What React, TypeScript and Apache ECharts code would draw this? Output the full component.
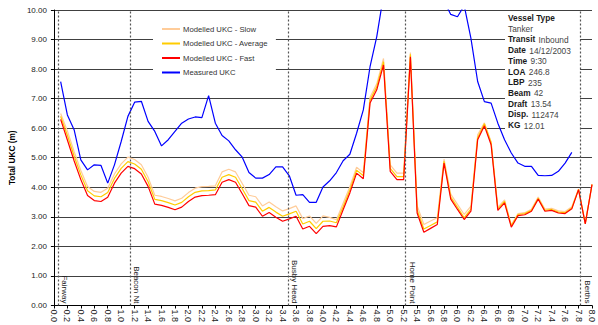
import React, { useEffect, useRef } from 'react';
import * as echarts from 'echarts';

const FONT = '"Liberation Sans", Arial, Helvetica, sans-serif';

// distance along channel (km)
const modelKm = [
  0.1, 0.2, 0.3, 0.4, 0.5, 0.6, 0.7, 0.8, 0.9, 1.0,
  1.1, 1.2, 1.3, 1.4, 1.5, 1.6, 1.7, 1.8, 1.9, 2.0,
  2.1, 2.2, 2.3, 2.4, 2.5, 2.6, 2.7, 2.8, 2.9, 3.0,
  3.1, 3.2, 3.3, 3.4, 3.5, 3.6, 3.7, 3.8, 3.9, 4.0,
  4.1, 4.2, 4.3, 4.4, 4.5, 4.6, 4.7, 4.8, 4.9, 5.0,
  5.1, 5.2, 5.3, 5.4, 5.5, 5.6, 5.7, 5.8, 5.9, 6.0,
  6.1, 6.2, 6.3, 6.4, 6.5, 6.6, 6.7, 6.8, 6.9, 7.0,
  7.1, 7.2, 7.3, 7.4, 7.5, 7.6, 7.7, 7.8, 7.9, 8.0,
];

const slowUKC = [
  6.50, 5.91, 5.21, 4.57, 4.03, 3.86, 3.83, 3.97, 4.45, 4.79,
  5.02, 4.94, 4.76, 4.34, 3.73, 3.69, 3.62, 3.54, 3.63, 3.82,
  3.97, 4.02, 4.03, 4.05, 4.52, 4.61, 4.52, 4.13, 3.73, 3.68,
  3.37, 3.50, 3.34, 3.20, 3.28, 3.37, 2.94, 3.03, 2.78, 3.03,
  2.98, 2.90, 3.46, 4.02, 4.68, 4.49, 7.05, 7.50, 8.36, 4.76,
  4.48, 4.48, 8.56, 3.38, 2.74, 2.86, 2.97, 4.95, 3.77, 3.42,
  3.08, 3.36, 5.78, 6.18, 5.54, 3.32, 3.57, 2.72, 3.11, 3.14,
  3.26, 3.67, 3.26, 3.29, 3.20, 3.18, 3.34, 3.94, 2.78, 4.11,
];

const averageUKC = [
  6.40, 5.76, 5.06, 4.42, 3.88, 3.71, 3.68, 3.82, 4.30, 4.64,
  4.87, 4.79, 4.61, 4.19, 3.59, 3.55, 3.48, 3.40, 3.49, 3.68,
  3.83, 3.88, 3.89, 3.91, 4.34, 4.43, 4.34, 3.95, 3.55, 3.50,
  3.19, 3.32, 3.16, 3.02, 3.10, 3.19, 2.76, 2.85, 2.60, 2.85,
  2.86, 2.80, 3.34, 3.91, 4.58, 4.39, 6.95, 7.40, 8.25, 4.64,
  4.36, 4.36, 8.50, 3.23, 2.59, 2.71, 2.83, 4.88, 3.67, 3.32,
  2.97, 3.26, 5.68, 6.15, 5.51, 3.27, 3.52, 2.70, 3.08, 3.11,
  3.22, 3.63, 3.22, 3.25, 3.16, 3.14, 3.30, 3.93, 2.77, 4.10,
];

const fastUKC = [
  6.30, 5.60, 4.90, 4.26, 3.72, 3.55, 3.52, 3.66, 4.14, 4.48,
  4.71, 4.63, 4.45, 4.03, 3.43, 3.39, 3.32, 3.24, 3.33, 3.52,
  3.67, 3.72, 3.73, 3.75, 4.17, 4.26, 4.17, 3.78, 3.38, 3.33,
  3.02, 3.15, 2.99, 2.85, 2.93, 3.02, 2.59, 2.68, 2.43, 2.68,
  2.70, 2.66, 3.24, 3.81, 4.48, 4.29, 6.85, 7.30, 8.14, 4.54,
  4.26, 4.26, 8.42, 3.13, 2.48, 2.61, 2.74, 4.82, 3.60, 3.25,
  2.91, 3.19, 5.61, 6.08, 5.44, 3.22, 3.47, 2.65, 3.04, 3.07,
  3.19, 3.60, 3.19, 3.22, 3.13, 3.11, 3.27, 3.92, 2.76, 4.09,
];

const measuredKm = [
  0.1, 0.2, 0.3, 0.4, 0.5, 0.6, 0.7, 0.8, 0.9, 1.0,
  1.1, 1.2, 1.3, 1.4, 1.5, 1.6, 1.7, 1.8, 1.9, 2.0,
  2.1, 2.2, 2.3, 2.4, 2.5, 2.6, 2.7, 2.8, 2.9, 3.0,
  3.1, 3.2, 3.3, 3.4, 3.5, 3.6, 3.7, 3.8, 3.9, 4.0,
  4.1, 4.2, 4.3, 4.4, 4.5, 4.6, 4.7, 4.8, 4.9, 5.0,
  5.1, 5.2, 5.3, 5.4, 5.5, 5.6, 5.7, 5.8, 5.9, 6.0,
  6.1, 6.2, 6.3, 6.4, 6.5, 6.6, 6.7, 6.8, 6.9, 7.0,
  7.1, 7.2, 7.3, 7.4, 7.5, 7.6, 7.7,
];

const measuredUKC = [
  7.58, 6.45, 5.95, 4.93, 4.59, 4.76, 4.74, 4.14, 4.76, 5.55,
  6.40, 6.88, 6.91, 6.23, 5.89, 5.40, 5.61, 5.89, 6.17, 6.31,
  6.38, 6.36, 7.10, 6.17, 5.75, 5.57, 5.27, 5.02, 4.50, 4.31,
  4.31, 4.43, 4.69, 4.69, 4.39, 3.73, 3.75, 3.49, 3.49, 4.01,
  4.22, 4.50, 4.90, 5.12, 5.83, 6.62, 8.08, 9.10, 10.50, 11.30,
  11.80, 12.00, 11.90, 11.50, 11.00, 10.70, 10.40, 10.30, 9.85, 9.77,
  10.15, 9.04, 7.58, 6.90, 6.85, 6.17, 5.61, 5.16, 4.82, 4.71,
  4.71, 4.40, 4.39, 4.40, 4.54, 4.82, 5.18,
];

const seriesNames = [
  'Modelled UKC - Slow',
  'Modelled UKC - Average',
  'Modelled UKC - Fast',
  'Measured UKC',
];
const seriesColors = ['#FFCC99', '#FFCC00', '#FF0000', '#0000FF'];

const markerNames = ['Fairway', 'Beacon Nt', 'Busby Head', 'Home Point', 'Berths'];
const markerKm = [0.06, 1.13, 3.48, 5.22, 7.83];

const infoLabels = ['Transit', 'Date', 'Time', 'LOA', 'LBP', 'Beam', 'Draft', 'Disp.', 'KG'];
const infoValues = ['Inbound', '14/12/2003', '9:30', '246.8', '235', '42', '13.54', '112474', '12.01'];
const vesselTypeLabel = 'Vessel Type';
const vesselTypeValue = 'Tanker';

function pairs(xs: number[], ys: number[]) {
  return xs.map((x, i) => [x, ys[i]]);
}

export default function App() {
  const ref = useRef<HTMLDivElement>(null);

  useEffect(() => {
    if (!ref.current) return;
    const chart = echarts.init(ref.current, null, { renderer: 'svg' });

    const seriesData = [
      pairs(modelKm, slowUKC),
      pairs(modelKm, averageUKC),
      pairs(modelKm, fastUKC),
      pairs(measuredKm, measuredUKC),
    ];

    const series: any[] = seriesNames.map((name, i) => ({
      name,
      type: 'line',
      data: seriesData[i],
      showSymbol: false,
      symbol: 'none',
      clip: true,
      silent: true,
      z: 2 + i * 0.1,
      itemStyle: { color: seriesColors[i] },
      lineStyle: { color: seriesColors[i], width: 1.2 },
    }));

    series[2].markLine = {
      silent: true,
      symbol: ['none', 'none'],
      label: { show: false },
      lineStyle: { color: '#555', width: 1.2, type: [2, 2] },
      data: markerKm.map((km) => [{ coord: [km, 0] }, { coord: [km, 10] }]),
    };

    const infoRowY = (i: number) => 18 + i * 10.7;
    const boxX = 508;
    const infoGraphics: any[] = [
      {
        type: 'rect',
        z: 1,
        silent: true,
        shape: { x: 505, y: 13, width: 75, height: 123 },
        style: { fill: '#ffffff' },
      },
      {
        type: 'text',
        z: 1,
        silent: true,
        x: boxX,
        y: infoRowY(0),
        style: {
          text: vesselTypeLabel,
          font: `bold 8.3px ${FONT}`,
          fill: '#1a1a1a',
          verticalAlign: 'middle',
        },
      },
      {
        type: 'text',
        z: 1,
        silent: true,
        x: boxX,
        y: infoRowY(1),
        style: {
          text: vesselTypeValue,
          font: `8.3px ${FONT}`,
          fill: '#444',
          verticalAlign: 'middle',
        },
      },
      ...infoLabels.map((lab, i) => ({
        type: 'text',
        z: 1,
        silent: true,
        x: boxX,
        y: infoRowY(i + 2),
        style: {
          text: `{b|${lab}} {n|${infoValues[i]}}`,
          verticalAlign: 'middle',
          rich: {
            b: { fontFamily: FONT, fontSize: 8.3, fontWeight: 'bold', fill: '#1a1a1a' },
            n: { fontFamily: FONT, fontSize: 8.3, fill: '#444', padding: [1, 0, 0, 0] },
          },
        },
      })),
    ];

    chart.setOption({
      animation: false,
      backgroundColor: '#ffffff',
      textStyle: { fontFamily: FONT },
      grid: { left: 53, right: 6, top: 10, bottom: 19, containLabel: false },
      legend: {
        orient: 'vertical',
        left: 153,
        top: 17.5,
        padding: [6, 8, 4, 9],
        backgroundColor: '#ffffff',
        itemWidth: 18,
        itemHeight: 2,
        itemGap: 3.5,
        icon: 'rect',
        selectedMode: false,
        data: seriesNames,
        textStyle: { fontFamily: FONT, fontSize: 7.7, color: '#333', lineHeight: 11, padding: [0, 0, 0, -2] },
      },
      xAxis: {
        type: 'value',
        min: 0,
        max: 8,
        interval: 0.2,
        axisLine: { show: true, onZero: false, lineStyle: { color: '#000', width: 1 } },
        axisTick: { show: true, length: 3, lineStyle: { color: '#000' } },
        axisLabel: {
          rotate: -90,
          fontSize: 9,
          fontFamily: FONT,
          color: '#222',
          margin: 4,
          formatter: (v: number) => v.toFixed(1),
        },
        splitLine: { show: false },
      },
      yAxis: {
        type: 'value',
        min: 0,
        max: 10,
        interval: 1,
        name: 'Total UKC (m)',
        nameLocation: 'middle',
        nameGap: 31,
        nameRotate: 90,
        nameTextStyle: { fontWeight: 'bold', fontSize: 8.3, fontFamily: FONT, color: '#000' },
        axisLine: { show: true, lineStyle: { color: '#000', width: 1 } },
        axisTick: { show: true, length: 3, lineStyle: { color: '#000' } },
        axisLabel: {
          fontSize: 8,
          fontFamily: FONT,
          color: '#222',
          margin: 7,
          formatter: (v: number) => v.toFixed(2),
        },
        splitLine: { show: true, lineStyle: { color: '#404040', width: 1 } },
      },
      graphic: infoGraphics,
      series,
    });

    const markerLabels = markerKm.map((km, i) => {
      const p = chart.convertToPixel({ gridIndex: 0 }, [km, 0]) as number[];
      return {
        type: 'text',
        z: 5,
        silent: true,
        x: p[0] + 3,
        y: p[1] - 2,
        rotation: -Math.PI / 2,
        style: {
          text: markerNames[i],
          font: `8px ${FONT}`,
          fill: '#222',
          align: 'right',
          verticalAlign: 'bottom',
        },
      };
    });

    chart.setOption({ graphic: [...infoGraphics, ...markerLabels] });

    return () => chart.dispose();
  }, []);

  return (
    <div
      ref={ref}
      style={{ position: 'absolute', left: 0, top: 0, width: 598, height: 325 }}
    />
  );
}
